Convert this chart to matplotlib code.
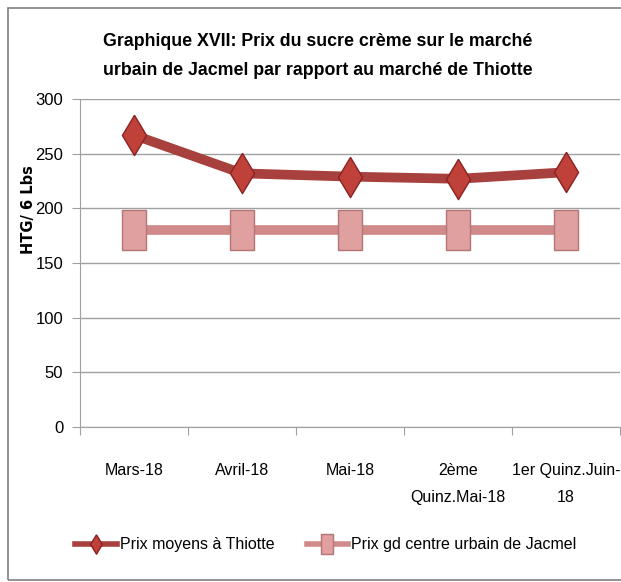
import matplotlib
matplotlib.use("Agg")
import matplotlib.pyplot as plt
from matplotlib.lines import Line2D
from matplotlib.patches import Rectangle

categories = ["Mars-18", "Avril-18", "Mai-18", "2ème\nQuinz.Mai-18", "1er Quinz.Juin-\n18"]
thiotte = [267, 232, 229, 227, 233]
jacmel = [180, 180, 180, 180, 180]
yticks = [0, 50, 100, 150, 200, 250, 300]
title = "Graphique XVII: Prix du sucre crème sur le marché\nurbain de Jacmel par rapport au marché de Thiotte"
ylabel = "HTG/ 6 Lbs"
labels = ["Prix moyens à Thiotte", "Prix gd centre urbain de Jacmel"]

plt.rcParams['font.family'] = ["Liberation Sans", "DejaVu Sans"]

fig = plt.figure(figsize=(6.21, 5.82), dpi=100)
fig.patches.append(Rectangle((8/621, 2/582), 1.2, 572/582, transform=fig.transFigure,
                             fill=False, edgecolor="#808080", linewidth=1.2))
ax = fig.add_axes([80/621, 155/582, 540/621, 328/582])

x = list(range(len(categories)))
diamond = [(0, 1), (0.6, 0), (0, -1), (-0.6, 0), (0, 1)]
rect = [(-0.6, -1), (0.6, -1), (0.6, 1), (-0.6, 1), (-0.6, -1)]

ax.plot(x, jacmel, color="#D08A8A", linewidth=7, marker=rect, markersize=29,
        markerfacecolor="#E0A0A0", markeredgecolor="#B57575", markeredgewidth=1, zorder=3)
ax.plot(x, thiotte, color="#A8403D", linewidth=7, marker=diamond, markersize=29,
        markerfacecolor="#C0403A", markeredgecolor="#8A2222", markeredgewidth=1, zorder=4)

ax.set_xlim(-0.5, len(categories) - 0.5)
ax.set_ylim(0, 300)
ax.set_yticks(yticks)
ax.set_yticklabels([str(v) for v in yticks], fontsize=12)
ax.yaxis.grid(True, color="#A0A0A0", linewidth=1)
ax.set_axisbelow(True)
ax.set_xticks([i - 0.5 for i in range(len(categories) + 1)])
ax.set_xticklabels([])
ax.set_xticks(x, minor=True)
ax.set_xticklabels(categories, minor=True, fontsize=11.5, linespacing=1.95)
ax.tick_params(axis="x", which="minor", length=0, pad=26)
ax.tick_params(axis="x", which="major", length=6, color="#A0A0A0", direction="out")
ax.tick_params(axis="y", length=6, color="#A0A0A0", pad=6)
for s in ["top", "right"]:
    ax.spines[s].set_visible(False)
for s in ["left", "bottom"]:
    ax.spines[s].set_color("#A0A0A0")

fig.text(28/621, 1 - 210/582, ylabel, rotation=90, ha="center", va="center",
         fontsize=10.5, fontweight="bold", family="DejaVu Sans")
fig.text(318/621, 1 - 56/582, title, ha="center", va="center", fontsize=12.8,
         fontweight="bold", linespacing=1.85)

h1 = Line2D([], [], color="#A8403D", linewidth=4, marker=diamond, markersize=14,
            markerfacecolor="#C0403A", markeredgecolor="#8A2222")
h2 = Line2D([], [], color="#D08A8A", linewidth=4, marker=rect, markersize=14,
            markerfacecolor="#E0A0A0", markeredgecolor="#B57575")
fig.legend([h1, h2], labels, loc="center", bbox_to_anchor=(326/621, 1 - 545/582),
           ncol=2, frameon=False, fontsize=11.5, handlelength=2.6, handletextpad=0.2,
           columnspacing=2.0)

fig.savefig("out.png", dpi=100)
